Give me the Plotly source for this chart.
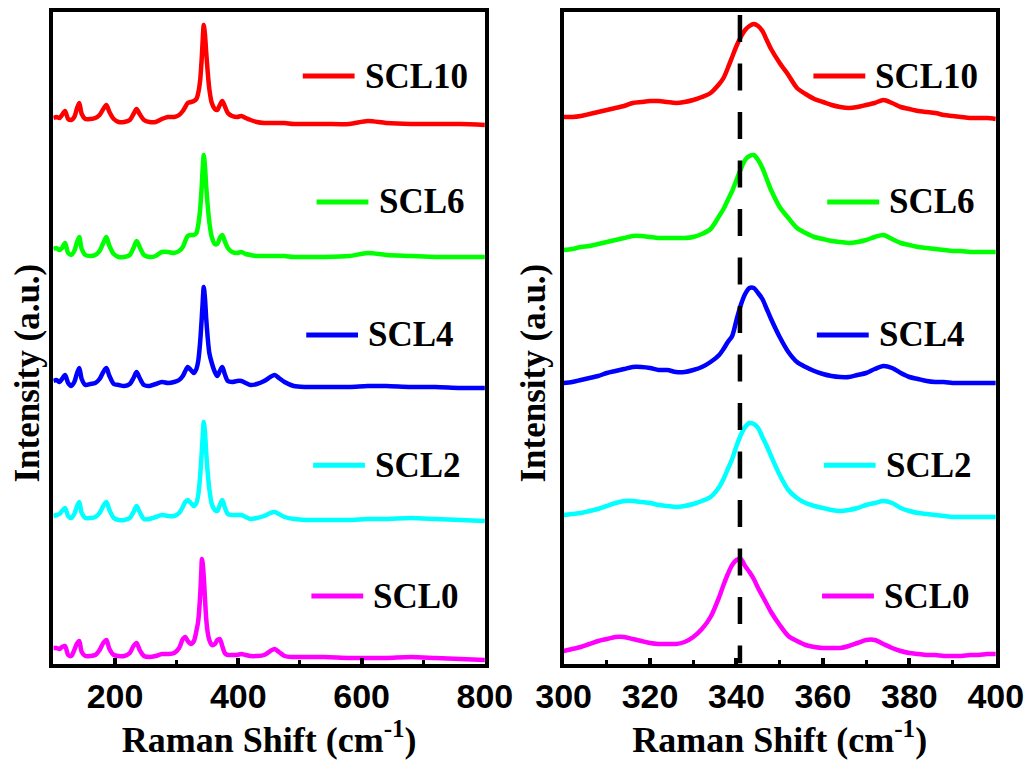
import plotly.graph_objects as go

# ---------------- data ----------------
series_names = ["SCL0", "SCL2", "SCL4", "SCL6", "SCL10"]
series_colors = ["#FF00FF", "#00FFFF", "#0000FF", "#00FF00", "#FF0000"]

# Full-range spectra (Raman shift in cm-1, intensity in a.u. incl. vertical stacking offset)
wide_shift = [100, 105, 110, 114, 119, 124, 129, 134, 138, 142,
              146, 152, 160, 168, 175, 181, 186, 191, 198, 206,
              215, 224, 230, 235, 240, 247, 256, 266, 276, 286,
              296, 304, 310, 314, 318, 323, 328, 332, 335, 338,
              340, 341, 342, 344, 346, 348, 350, 353, 357, 362,
              366, 370, 374, 378, 383, 390, 398, 405, 412, 420,
              430, 442, 452, 459, 466, 475, 490, 510, 540, 580,
              610, 640, 680, 720, 760, 800]

wide_scl0 = [17, 17, 16, 18, 19, 10, 9, 15, 21, 24,
             13, 9, 9, 10, 15, 22, 25, 16, 10, 9,
             9, 12, 19, 22, 15, 9, 8, 9, 11, 11,
             12, 17, 26, 28, 24, 21, 24, 34, 44, 68,
             94, 106, 103, 88, 66, 46, 34, 25, 20, 21,
             25, 26, 19, 12, 10, 10, 10, 11, 10, 9,
             9, 10, 14, 16, 13, 9, 8, 8, 8, 7,
             7, 7, 8, 7, 6, 5]

wide_scl2 = [149, 150, 151, 154, 157, 149, 147, 151, 158, 163,
             152, 147, 147, 148, 152, 159, 163, 155, 147, 145,
             145, 147, 153, 159, 153, 146, 146, 148, 150, 149,
             149, 152, 158, 163, 165, 162, 159, 162, 170, 188,
             206, 216, 226, 243, 232, 212, 195, 176, 161, 155,
             154, 160, 165, 158, 151, 150, 150, 150, 148, 146,
             147, 149, 152, 153, 151, 148, 146, 145, 145, 145,
             146, 146, 147, 146, 145, 144]

wide_scl4 = [284, 285, 283, 286, 290, 282, 279, 283, 291, 297,
             286, 280, 281, 282, 286, 293, 297, 289, 281, 280,
             279, 281, 287, 293, 287, 280, 279, 281, 283, 282,
             283, 285, 289, 294, 298, 295, 292, 296, 304, 322,
             340, 350, 360, 378, 366, 346, 330, 312, 302, 293,
             289, 294, 298, 291, 284, 283, 284, 284, 282, 280,
             281, 284, 288, 290, 287, 283, 279, 278, 278, 278,
             279, 279, 278, 278, 277, 277]

wide_scl6 = [416, 417, 415, 417, 422, 412, 410, 414, 422, 428,
             416, 410, 409, 410, 414, 422, 428, 419, 411, 408,
             408, 410, 417, 424, 418, 410, 408, 409, 413, 413,
             412, 414, 418, 424, 429, 430, 430, 432, 440, 455,
             472, 482, 494, 510, 498, 478, 462, 443, 428, 421,
             421, 427, 430, 424, 417, 413, 412, 413, 411, 410,
             409, 409, 409, 409, 409, 409, 408, 408, 408, 409,
             412, 410, 409, 408, 408, 408]

wide_scl10 = [547, 548, 547, 550, 554, 546, 545, 548, 556, 562,
              551, 546, 546, 547, 550, 556, 560, 553, 546, 543,
              543, 545, 551, 556, 551, 545, 543, 543, 546, 548,
              548, 550, 554, 558, 562, 563, 564, 566, 572, 584,
              600, 610, 622, 640, 630, 612, 596, 576, 562, 556,
              555, 560, 564, 559, 552, 549, 548, 549, 547, 545,
              543, 542, 542, 542, 542, 542, 541, 541, 541, 541,
              544, 542, 541, 541, 541, 540]

# Zoomed spectra, 300-400 cm-1
narrow_shift = [300, 302, 304, 306, 308, 310, 312, 314, 316, 318,
                320, 322, 324, 326, 328, 330, 332, 334, 336, 337,
                338, 339, 340, 341, 342, 343, 344, 345, 346, 347,
                348, 350, 352, 354, 356, 358, 360, 362, 364, 366,
                368, 370, 372, 374, 376, 378, 380, 382, 384, 386,
                388, 390, 392, 394, 396, 398, 400]

narrow_scl0 = [14, 16, 18, 21, 24, 26, 28, 28, 26, 24,
               22, 21, 21, 21, 23, 28, 36, 48, 68, 80,
               91, 100, 105, 106, 99, 93, 86, 77, 69, 61,
               53, 40, 29, 24, 20, 18, 17, 17, 17, 19,
               22, 25, 25, 21, 17, 14, 12, 11, 10, 10,
               9, 9, 9, 10, 10, 11, 11]

narrow_scl2 = [150, 151, 152, 154, 156, 159, 162, 164, 164, 163,
               162, 160, 159, 158, 159, 161, 164, 168, 178, 186,
               196, 206, 219, 230, 238, 242, 241, 237, 228, 219,
               209, 190, 175, 167, 162, 159, 157, 155, 154, 155,
               157, 160, 162, 164, 162, 157, 154, 152, 151, 150,
               149, 148, 148, 148, 148, 148, 148]

narrow_scl4 = [282, 283, 285, 287, 289, 292, 294, 296, 298, 298,
               297, 295, 295, 293, 293, 295, 298, 303, 310, 316,
               323, 329, 345, 360, 371, 377, 377, 372, 366, 356,
               346, 328, 313, 303, 298, 294, 291, 289, 288, 288,
               290, 292, 296, 299, 297, 292, 288, 286, 284, 283,
               283, 282, 282, 282, 282, 282, 282]

narrow_scl6 = [415, 416, 418, 419, 421, 423, 425, 427, 429, 429,
               428, 427, 427, 427, 427, 428, 431, 436, 449, 456,
               465, 474, 485, 496, 505, 509, 510, 505, 497, 486,
               475, 458, 447, 437, 432, 428, 426, 424, 423, 422,
               423, 425, 428, 430, 426, 422, 420, 418, 417, 416,
               415, 414, 414, 413, 413, 413, 413]

narrow_scl10 = [548, 548, 549, 551, 553, 555, 557, 559, 562, 563,
                564, 564, 563, 562, 563, 565, 568, 572, 581, 587,
                597, 608, 619, 628, 635, 639, 641, 639, 634, 625,
                616, 602, 590, 577, 571, 566, 563, 560, 558, 557,
                558, 560, 562, 565, 562, 558, 556, 554, 553, 552,
                550, 549, 548, 547, 547, 547, 546]

wide_series = [wide_scl0, wide_scl2, wide_scl4, wide_scl6, wide_scl10]
narrow_series = [narrow_scl0, narrow_scl2, narrow_scl4, narrow_scl6, narrow_scl10]

marker_shift = 340.8  # position of the reference dashed line (cm-1)

# ---------------- figure ----------------
W, H = 1029, 766
fig = go.Figure()

panels = [
    ("x", "y", wide_shift, wide_series),
    ("x2", "y2", narrow_shift, narrow_series),
]
for xa, ya, shift, series in panels:
    for name, color, vals in zip(series_names, series_colors, series):
        fig.add_trace(go.Scatter(
            x=shift, y=vals, mode="lines", name=name,
            line=dict(color=color, width=4.5, shape="spline", smoothing=0.8),
            xaxis=xa, yaxis=ya, showlegend=False, hoverinfo="skip",
        ))

serif = "Liberation Serif, Times New Roman, serif"
sans = "Liberation Sans, Arial, sans-serif"

axis_common = dict(
    showline=True, linecolor="black", linewidth=4, mirror=True,
    showgrid=False, zeroline=False, automargin=False,
)
x_common = dict(
    axis_common,
    ticks="inside", ticklen=6, tickwidth=4, tickcolor="black",
    tickfont=dict(family=sans, size=34, color="black", weight="bold"),
    title=dict(text="Raman Shift (cm<sup>-1</sup>)",
               font=dict(family=serif, size=36, color="black", weight="bold"),
               standoff=5),
    tickmode="linear", tick0=0,
)
y_common = dict(axis_common, showticklabels=False, ticks="", range=[1.5, 653.5])

y_dom = [(H - 663.5) / H, (H - 11.5) / H]
fig.update_layout(
    width=W, height=H,
    margin=dict(l=0, r=0, t=0, b=0, autoexpand=False),
    paper_bgcolor="white", plot_bgcolor="white",
    xaxis=dict(x_common, domain=[53.35 / W, 484.9 / W], range=[100, 800], dtick=200,
               minor=dict(dtick=100, tick0=0, ticks="inside", ticklen=4, tickwidth=3, tickcolor="black")),
    yaxis=dict(y_common, domain=y_dom, anchor="x"),
    xaxis2=dict(x_common, domain=[563.6 / W, 995.8 / W], range=[300, 400], dtick=20,
                anchor="y2",
                minor=dict(dtick=10, tick0=0, ticks="inside", ticklen=4, tickwidth=3, tickcolor="black")),
    yaxis2=dict(y_common, domain=y_dom, anchor="x2"),
    showlegend=False,
)

# dashed reference line in the zoomed panel
fig.add_shape(type="line", xref="x2", yref="y2",
              x0=marker_shift, x1=marker_shift, y0=650, y1=1.5,
              line=dict(color="black", width=4.5, dash="27px,21.5px"))

# y-axis titles
for xpix in (26.5, 532.5):
    fig.add_annotation(text="Intensity (a.u.)", textangle=-90,
                       xref="paper", yref="paper", x=xpix / W, y=(H - 373) / H,
                       xanchor="center", yanchor="middle", showarrow=False,
                       font=dict(family=serif, size=35, color="black", weight="bold"))

# legend drawn inside each panel, top to bottom
legend_order = [4, 3, 2, 1, 0]
legend_row_y = [0.901, 0.708, 0.504, 0.304, 0.1035]
legend_line_x0 = [0.578, 0.610, 0.586, 0.602, 0.598]
legend_line_len = 0.120
legend_text_gap = 0.019
for xa, ya in (("x", "y"), ("x2", "y2")):
    for idx, yy, x0 in zip(legend_order, legend_row_y, legend_line_x0):
        fig.add_shape(type="line", xref=f"{xa} domain", yref=f"{ya} domain",
                      x0=x0, x1=x0 + legend_line_len, y0=yy, y1=yy,
                      line=dict(color=series_colors[idx], width=5))
        fig.add_annotation(text=series_names[idx], xref=f"{xa} domain", yref=f"{ya} domain",
                           x=x0 + legend_line_len + legend_text_gap, y=yy,
                           xanchor="left", yanchor="middle", showarrow=False,
                           font=dict(family=serif, size=35, color="black", weight="bold"))

fig.write_html("out.html")
